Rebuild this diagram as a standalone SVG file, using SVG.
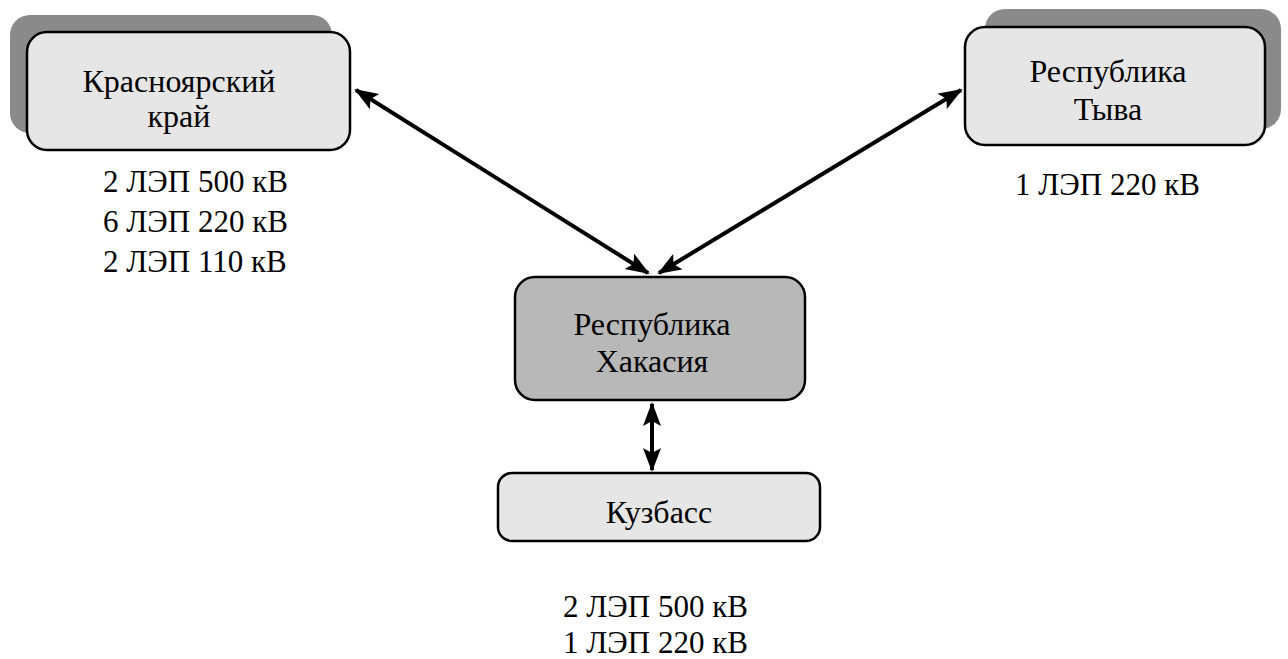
<svg xmlns="http://www.w3.org/2000/svg" width="1288" height="659" viewBox="0 0 1288 659">
<style>
.box{fill:#e6e6e6;stroke:#000;stroke-width:2.5}
.dark{fill:#b8b8b8;stroke:#000;stroke-width:2.5}
.shadow{fill:#8a8a8a}
text{font-family:'Liberation Serif','Times New Roman',Times,Tinos,'Noto Serif','DejaVu Serif',serif;fill:#000}
.t{font-size:32px}
.lbl{font-size:31px}
.c{stroke:#000;stroke-width:4;fill:none;marker-start:url(#ah);marker-end:url(#ah)}
</style>
<defs>
<marker id="ah" markerUnits="userSpaceOnUse" markerWidth="26" markerHeight="20" refX="22" refY="9" orient="auto-start-reverse">
<path d="M0,0 L24,9 L0,18 L5,9 z" fill="#000"/>
</marker>
</defs>
<rect width="1288" height="659" fill="#fff"/>
<g id="connectors">
<line class="c" x1="356" y1="90" x2="648" y2="273"/>
<line class="c" x1="961" y1="90" x2="659" y2="273"/>
<line class="c" x1="652" y1="404" x2="652" y2="470"/>
</g>
<g id="krasnoyarsk">
<rect class="shadow" x="10" y="15" width="322" height="118" rx="20"/>
<rect class="box" x="27" y="32" width="323" height="118" rx="20"/>
<text class="t" x="179" y="92" text-anchor="middle">Красноярский</text>
<text class="t" x="179" y="127" text-anchor="middle">край</text>
</g>
<g id="tyva">
<rect class="shadow" x="985" y="9" width="296" height="120" rx="20"/>
<rect class="box" x="965" y="27" width="300" height="118" rx="20"/>
<text class="t" x="1108" y="82" text-anchor="middle">Республика</text>
<text class="t" x="1108" y="120" text-anchor="middle">Тыва</text>
</g>
<g id="khakassia">
<rect class="dark" x="515" y="277" width="290" height="123" rx="20"/>
<text class="t" x="652" y="335" text-anchor="middle">Республика</text>
<text class="t" x="652" y="372" text-anchor="middle">Хакасия</text>
</g>
<g id="kuzbass">
<rect class="box" x="498" y="473" width="322" height="68" rx="14"/>
<text class="t" x="659" y="523" text-anchor="middle">Кузбасс</text>
</g>
<g id="labels">
<text class="lbl" x="103" y="192">2 ЛЭП 500 кВ</text>
<text class="lbl" x="103" y="232">6 ЛЭП 220 кВ</text>
<text class="lbl" x="103" y="272">2 ЛЭП 110 кВ</text>
<text class="lbl" x="1015" y="195">1 ЛЭП 220 кВ</text>
<text class="lbl" x="563" y="617">2 ЛЭП 500 кВ</text>
<text class="lbl" x="563" y="653">1 ЛЭП 220 кВ</text>
</g>
</svg>
